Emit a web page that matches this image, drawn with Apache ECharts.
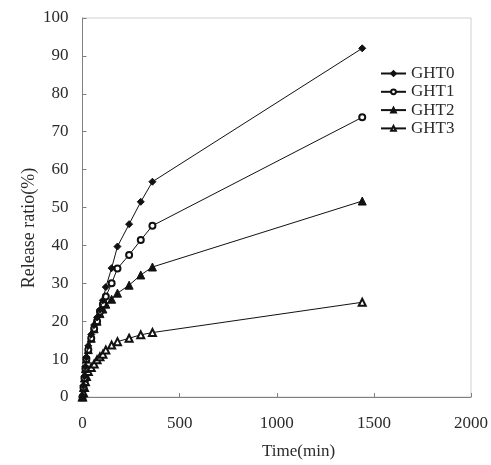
<!DOCTYPE html>
<html>
<head>
<meta charset="utf-8">
<script src="https://cdn.jsdelivr.net/npm/echarts@6/dist/echarts.min.js"></script>
<style>html,body{margin:0;padding:0;background:#fff;}#c{width:491px;height:465px;}</style>
</head>
<body>
<div id="c"></div>
<script>
var times = [0, 5, 10, 15, 20, 30, 45, 60, 75, 90, 105, 120, 150, 180, 240, 300, 360, 1440];
var ght0 = [0, 3, 5.5, 8, 10.5, 13.5, 16.5, 19, 21, 23, 25.5, 29, 34, 39.7, 45.6, 51.5, 56.8, 92];
var ght1 = [0, 2.5, 5, 7.5, 10, 12.5, 15.5, 18, 20, 22.5, 24.5, 26.5, 30, 33.9, 37.5, 41.4, 45.2, 73.8];
var ght2 = [0, 2.5, 5, 7.5, 10, 12.5, 15.5, 18, 20, 22, 23.2, 24.5, 25.8, 27.4, 29.5, 32.2, 34.3, 51.7];
var ght3 = [0, 1.1, 2.5, 4, 5.4, 6.7, 7.8, 8.7, 9.8, 10.6, 11.3, 12.4, 13.7, 14.6, 15.5, 16.4, 17, 25];
var seriesNames = ['GHT0', 'GHT1', 'GHT2', 'GHT3'];
var xTicks = [0, 500, 1000, 1500, 2000];
var xTitle = 'Time(min)';
var yTitle = 'Release ratio(%)';

function pairs(v) { return times.map(function (t, i) { return [t, v[i]]; }); }

var font = '"Liberation Serif", "DejaVu Serif", serif';
var txt = '#2a2a2a';
var symbols = ['diamond', 'emptyCircle', 'triangle', 'emptyTriangle'];
var sizes = [7, 6, 8, 7];
var all = [ght0, ght1, ght2, ght3];

var chart = echarts.init(document.getElementById('c'), null, {renderer: 'canvas'});
chart.setOption({
  animation: false,
  backgroundColor: '#fff',
  grid: {left: 82.5, right: 19, top: 18, bottom: 68, show: true, borderColor: '#d0d0d0', borderWidth: 1},
  legend: {
    orient: 'vertical', left: 380, top: 65, padding: 0,
    itemWidth: 25, itemHeight: 6, itemGap: 1.3,
    data: seriesNames,
    textStyle: {fontFamily: font, fontSize: 17, color: txt, lineHeight: 17}
  },
  graphic: [
    {type: 'text', left: 262, top: 443, style: {text: xTitle, font: '17px ' + font, fill: txt}},
    {type: 'text', x: 29, y: 228, rotation: Math.PI / 2,
      style: {text: yTitle, font: '18px ' + font, fill: txt, align: 'center', verticalAlign: 'middle'}}
  ],
  xAxis: {
    type: 'value', min: 0, max: 2000, interval: 500,
    axisLine: {show: true, lineStyle: {color: '#808080', width: 1}},
    axisTick: {show: true, inside: true, length: 4, lineStyle: {color: '#808080'}},
    axisLabel: {fontFamily: font, fontSize: 17, color: txt, margin: 18,
      formatter: function (v) { return xTicks.indexOf(v) >= 0 ? String(v) : ''; }},
    splitLine: {show: false}
  },
  yAxis: {
    type: 'value', min: 0, max: 100, interval: 10,
    axisLine: {show: true, lineStyle: {color: '#808080', width: 1}},
    axisTick: {show: true, inside: true, length: 4, lineStyle: {color: '#808080'}},
    axisLabel: {fontFamily: font, fontSize: 17, color: txt, margin: 14},
    splitLine: {show: false}
  },
  series: seriesNames.map(function (n, k) {
    return {
      name: n, type: 'line', data: pairs(all[k]),
      symbol: symbols[k], symbolSize: sizes[k],
      lineStyle: {color: '#111', width: 1},
      itemStyle: {color: '#111', borderColor: '#111', borderWidth: 1},
      z: 10 - k
    };
  })
});
</script>
</body>
</html>
